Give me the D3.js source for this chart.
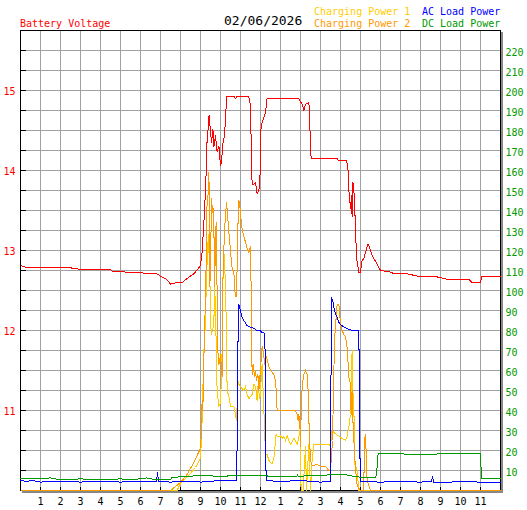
<!DOCTYPE html>
<html><head><meta charset="utf-8">
<script src="https://cdn.jsdelivr.net/npm/d3@7"></script>
<style>html,body{margin:0;padding:0;background:#fff;}svg{display:block}</style>
</head><body><svg id="c" width="527" height="510"></svg>
<script>
// ---------------- data ----------------
const chartTitle = "Battery Voltage";
const chartDate = "02/06/2026";
const legendNames = ["Charging Power 1", "Charging Power 2", "AC Load Power", "DC Load Power"];
const hourLabels = ["1","2","3","4","5","6","7","8","9","10","11","12","1","2","3","4","5","6","7","8","9","10","11"];
const voltTicks = [11, 12, 13, 14, 15];
const powerTicks = [10,20,30,40,50,60,70,80,90,100,110,120,130,140,150,160,170,180,190,200,210,220];

// [hour of day, volts]
const voltage = [[0,12.81],[0.3,12.79],[2.5,12.79],[2.6,12.77],[4.5,12.76],[4.6,12.74],[6.0,12.72],[6.8,12.71],[7.0,12.68],[7.3,12.64],[7.5,12.58],[7.83,12.6],[8.08,12.6],[8.33,12.65],[8.67,12.71],[9.0,12.81],[9.08,12.98],[9.17,13.35],[9.22,13.6],[9.28,13.96],[9.3,14.27],[9.38,14.52],[9.43,14.69],[9.5,14.48],[9.55,14.35],[9.62,14.52],[9.67,14.29],[9.75,14.44],[9.83,14.23],[9.92,14.31],[10.0,14.06],[10.05,14.1],[10.12,14.34],[10.2,14.44],[10.27,14.73],[10.3,14.92],[10.7,14.92],[10.75,14.9],[10.8,14.92],[11.4,14.92],[11.47,14.88],[11.5,14.69],[11.55,14.23],[11.58,13.83],[11.67,13.83],[11.75,13.85],[11.83,13.71],[11.92,13.75],[11.97,13.88],[12.0,14.23],[12.03,14.56],[12.15,14.65],[12.25,14.72],[12.33,14.9],[13.9,14.9],[14.08,14.83],[14.17,14.75],[14.25,14.83],[14.42,14.85],[14.45,14.67],[14.5,14.33],[14.53,14.15],[15.83,14.15],[15.92,14.12],[16.3,14.12],[16.37,14.04],[16.42,13.75],[16.5,13.52],[16.55,13.69],[16.58,13.42],[16.62,13.85],[16.67,13.75],[16.72,13.48],[16.78,13.06],[16.83,12.85],[16.92,12.73],[17.0,12.73],[17.08,12.88],[17.17,12.9],[17.3,13.02],[17.38,13.08],[17.45,13.04],[17.55,12.96],[17.67,12.9],[17.83,12.83],[18.0,12.75],[18.5,12.73],[18.67,12.71],[19.33,12.71],[19.83,12.68],[20.83,12.67],[21.33,12.64],[22.42,12.64],[22.58,12.6],[23.0,12.6],[23.08,12.68],[24,12.68]];

// [hour of day, watts]
const chargingPower1 = [[0,0],[7.83,0],[8.0,3.5],[8.5,8.5],[8.75,11.5],[9.0,16],[9.05,26.5],[9.08,35],[9.13,55],[9.17,70],[9.22,78],[9.25,88],[9.3,105],[9.35,120],[9.4,128],[9.45,110],[9.5,95],[9.53,78],[9.6,80],[9.67,83],[9.7,105],[9.75,90],[9.83,50],[9.92,42],[10.0,44],[10.05,57],[10.08,70],[10.12,105],[10.2,118],[10.3,80],[10.33,50],[10.42,47],[10.5,42],[10.67,42],[10.75,38],[10.8,35],[10.83,42],[10.87,55],[10.92,53],[11.0,52],[11.08,51],[11.17,50],[11.25,52],[11.33,48],[11.42,46],[11.5,47],[11.58,48],[11.67,53],[11.75,52],[11.83,45],[11.87,52],[11.92,49],[11.97,46],[12.03,55],[12.08,63],[12.15,45],[12.25,18],[12.33,18],[12.42,15],[12.5,14],[12.58,13.5],[12.67,16],[12.72,21.7],[12.78,28],[12.88,26.7],[13.0,27.5],[13.08,26],[13.17,27],[13.25,25],[13.33,27.5],[13.42,25],[13.5,23],[13.67,26],[13.75,25],[13.83,23],[13.92,26.7],[13.97,30],[14.0,22],[14.03,0],[14.13,0],[14.25,22],[14.3,0],[14.42,23],[14.5,0],[14.58,15],[14.67,23],[15.0,23],[15.42,23],[15.5,22],[15.58,30],[15.67,29],[16.08,26],[16.25,25],[16.33,27],[16.42,32],[16.5,38],[16.55,55],[16.58,70],[16.62,50],[16.67,40],[16.72,13],[16.83,10],[16.92,0],[24,0]];

const chargingPower2 = [[0,0],[7.5,0],[8.0,4],[8.33,8],[8.58,12.5],[8.83,17.5],[9.0,21],[9.05,30],[9.08,45],[9.12,40],[9.15,62],[9.2,75],[9.25,100],[9.3,119],[9.33,146],[9.38,148],[9.42,159],[9.45,133],[9.47,102],[9.53,131],[9.55,146],[9.58,139],[9.62,142.5],[9.67,132.5],[9.7,102],[9.78,134],[9.83,100],[9.85,72],[9.92,63],[10.0,68],[10.08,57],[10.12,105],[10.2,130],[10.3,144],[10.33,141],[10.38,134],[10.42,129],[10.47,124],[10.5,117.5],[10.55,116],[10.58,111],[10.67,109],[10.7,102],[10.75,97],[10.8,97],[10.9,145],[10.95,144],[11.0,139],[11.05,132.5],[11.12,129],[11.2,126],[11.33,121],[11.42,119],[11.5,122],[11.53,102],[11.58,58],[11.63,63],[11.7,57],[11.75,60],[11.8,55],[11.87,58],[11.92,50],[11.97,57],[12.03,65],[12.08,72],[12.13,70],[12.22,63],[12.3,67],[12.42,62],[12.5,60],[12.67,58],[12.75,55],[12.8,48],[12.83,40],[13.75,40],[13.83,38],[13.88,35],[13.92,38],[13.97,33],[14.0,22],[14.05,47],[14.12,55],[14.17,58],[14.25,60],[14.33,58],[14.38,50],[14.42,35],[14.47,22],[14.5,15],[14.58,12.5],[14.83,13],[15.0,12],[15.25,12],[15.42,10],[15.5,10],[15.6,25],[15.7,75],[15.83,93],[15.92,93],[15.95,90],[16.0,83],[16.08,80],[16.17,78],[16.25,76.7],[16.33,71.7],[16.42,56.7],[16.5,53],[16.53,38],[16.58,50],[16.62,35],[16.65,30],[16.7,18],[16.75,12],[16.8,5],[16.85,2],[17.0,0],[17.15,0],[17.23,28],[17.28,20],[17.33,5],[17.5,0],[24,0]];

const acLoadPower = [[0,5],[0.3,4.5],[0.6,5],[1,4.2],[2,4.7],[3,4.2],[4,4.7],[5,4.2],[6,4.7],[6.8,4.5],[6.85,9],[6.9,4.5],[7.5,4.2],[8.5,4.7],[9,4.2],[10,5],[10.8,5],[10.83,22],[10.87,72],[10.92,93],[10.95,91.7],[11,90],[11.08,86.7],[11.17,85],[11.33,82.5],[11.5,81.7],[11.67,81],[11.83,80],[12,80],[12.05,79],[12.17,79],[12.22,78],[12.25,40],[12.28,5],[13,4.5],[14,5],[15,4.2],[15.5,4.5],[15.52,48],[15.55,96.7],[15.63,94],[15.67,91.7],[15.75,88],[15.83,86.7],[15.92,84],[16,83],[16.17,81.7],[16.33,81],[16.5,80.3],[16.58,80],[16.92,80],[16.95,28],[17.0,4.5],[18,4.2],[19,4.5],[20,4.2],[20.55,4.5],[20.6,7],[20.65,4.2],[21.5,4.2],[22,4.5],[23,4.2],[24,4.2]];

const dcLoadPower = [[0,5.8],[0.5,6.2],[1,5.8],[1.5,6.3],[2,5.3],[3,5.8],[4,5.3],[5,5.8],[5.5,5.3],[6.3,6.3],[6.8,5.3],[7.5,5.3],[7.55,6.3],[7.8,6.7],[8.3,7],[9,7.5],[10.2,7],[10.5,7.5],[11,7.5],[12.2,7.5],[12.5,7],[13.8,7],[13.85,7.8],[13.9,7],[14.5,7.5],[15.5,7.8],[16.3,7.8],[16.7,7],[17.3,6.3],[17.75,6.3],[17.8,8],[17.88,18.3],[19,18.3],[20,18],[21,18.3],[22,18.3],[23.0,18.3],[23.05,5.8],[24,5.8]];

// ---------------- chart ----------------
const W = 527, H = 510;
const L = 20, R = 500, T = 30, B = 490;
const font = "'DejaVu Sans Mono', monospace";
const colors = {volt: "#FF0000", cp1: "#FFCC00", cp2: "#FF9900", ac: "#0000FF", dc: "#009900"};

const x = d3.scaleLinear().domain([0, 24]).range([L, R]);
const yV = d3.scaleLinear().domain([10, 15.75]).range([B, T]);
const yP = d3.scaleLinear().domain([0, 230]).range([B, T]);

const svg = d3.select("#c");
svg.append("rect").attr("width", W).attr("height", H).attr("fill", "#fff");
// shadow + plot background
svg.append("rect").attr("x", L + 2).attr("y", T + 2).attr("width", R - L + 1).attr("height", B - T + 1).attr("fill", "#888");
svg.append("rect").attr("x", L).attr("y", T).attr("width", R - L + 1).attr("height", B - T + 1).attr("fill", "#fff");

const g = svg.append("g").attr("transform", "translate(0.5,0.5)");
const crisp = "crispEdges";

// grid
const vGrid = d3.range(1, 24);
const hGrid = d3.range(10.25, 15.51, 0.25);
g.selectAll(".vg").data(vGrid).join("line")
  .attr("x1", d => x(d)).attr("x2", d => x(d)).attr("y1", T).attr("y2", B)
  .attr("stroke", "#a0a0a0").attr("shape-rendering", crisp);
g.selectAll(".hg").data(hGrid).join("line")
  .attr("x1", L).attr("x2", R).attr("y1", d => Math.round(yV(d))).attr("y2", d => Math.round(yV(d)))
  .attr("stroke", "#a0a0a0").attr("shape-rendering", crisp);
// inner ticks
g.selectAll(".lt").data(hGrid).join("line")
  .attr("x1", L).attr("x2", L + 5).attr("y1", d => Math.round(yV(d))).attr("y2", d => Math.round(yV(d)))
  .attr("stroke", "#000").attr("shape-rendering", crisp);
g.selectAll(".bt").data(vGrid).join("line")
  .attr("x1", d => x(d)).attr("x2", d => x(d)).attr("y1", B - 4).attr("y2", B)
  .attr("stroke", "#000").attr("shape-rendering", crisp);

// frame
g.append("rect").attr("x", L).attr("y", T).attr("width", R - L).attr("height", B - T)
  .attr("fill", "none").attr("stroke", "#000").attr("shape-rendering", crisp);

// series
const lineV = d3.line().x(d => x(d[0])).y(d => yV(d[1]));
const lineP = d3.line().x(d => x(d[0])).y(d => yP(d[1]));
const series = [
  {data: voltage, gen: lineV, color: colors.volt},
  {data: chargingPower1, gen: lineP, color: colors.cp1},
  {data: chargingPower2, gen: lineP, color: colors.cp2},
  {data: acLoadPower, gen: lineP, color: colors.ac},
  {data: dcLoadPower, gen: lineP, color: colors.dc}
];
series.forEach(s => {
  g.append("path").attr("d", s.gen(s.data)).attr("fill", "none")
    .attr("stroke", s.color).attr("stroke-width", 1).attr("shape-rendering", crisp);
});

// axis labels
svg.selectAll(".vl").data(voltTicks).join("text")
  .attr("x", 15.5).attr("y", d => yV(d) + 4.5).attr("text-anchor", "end")
  .attr("font-family", font).attr("font-size", 10).attr("fill", colors.volt).text(d => d);
svg.selectAll(".pl").data(powerTicks).join("text")
  .attr("x", 505.5).attr("y", d => yP(d) + 5.5).attr("text-anchor", "start")
  .attr("font-family", font).attr("font-size", 10).attr("fill", colors.dc).text(d => d);
svg.selectAll(".hl").data(hourLabels).join("text")
  .attr("x", (d, i) => x(i + 1) + 0.5).attr("y", 505).attr("text-anchor", "middle")
  .attr("font-family", font).attr("font-size", 10).attr("fill", "#000").text(d => d);

// titles & legend
svg.append("text").attr("x", 20).attr("y", 27).attr("font-family", font).attr("font-size", 10)
  .attr("fill", colors.volt).text(chartTitle);
svg.append("text").attr("x", 224).attr("y", 25).attr("font-family", font).attr("font-size", 13)
  .attr("fill", "#000").text(chartDate);
const legendPos = [[314, 15, colors.cp1], [314, 27, colors.cp2], [422, 15, colors.ac], [422, 27, colors.dc]];
legendNames.forEach((n, i) => {
  svg.append("text").attr("x", legendPos[i][0]).attr("y", legendPos[i][1])
    .attr("font-family", font).attr("font-size", 10).attr("fill", legendPos[i][2]).text(n);
});
</script>
</body></html>
